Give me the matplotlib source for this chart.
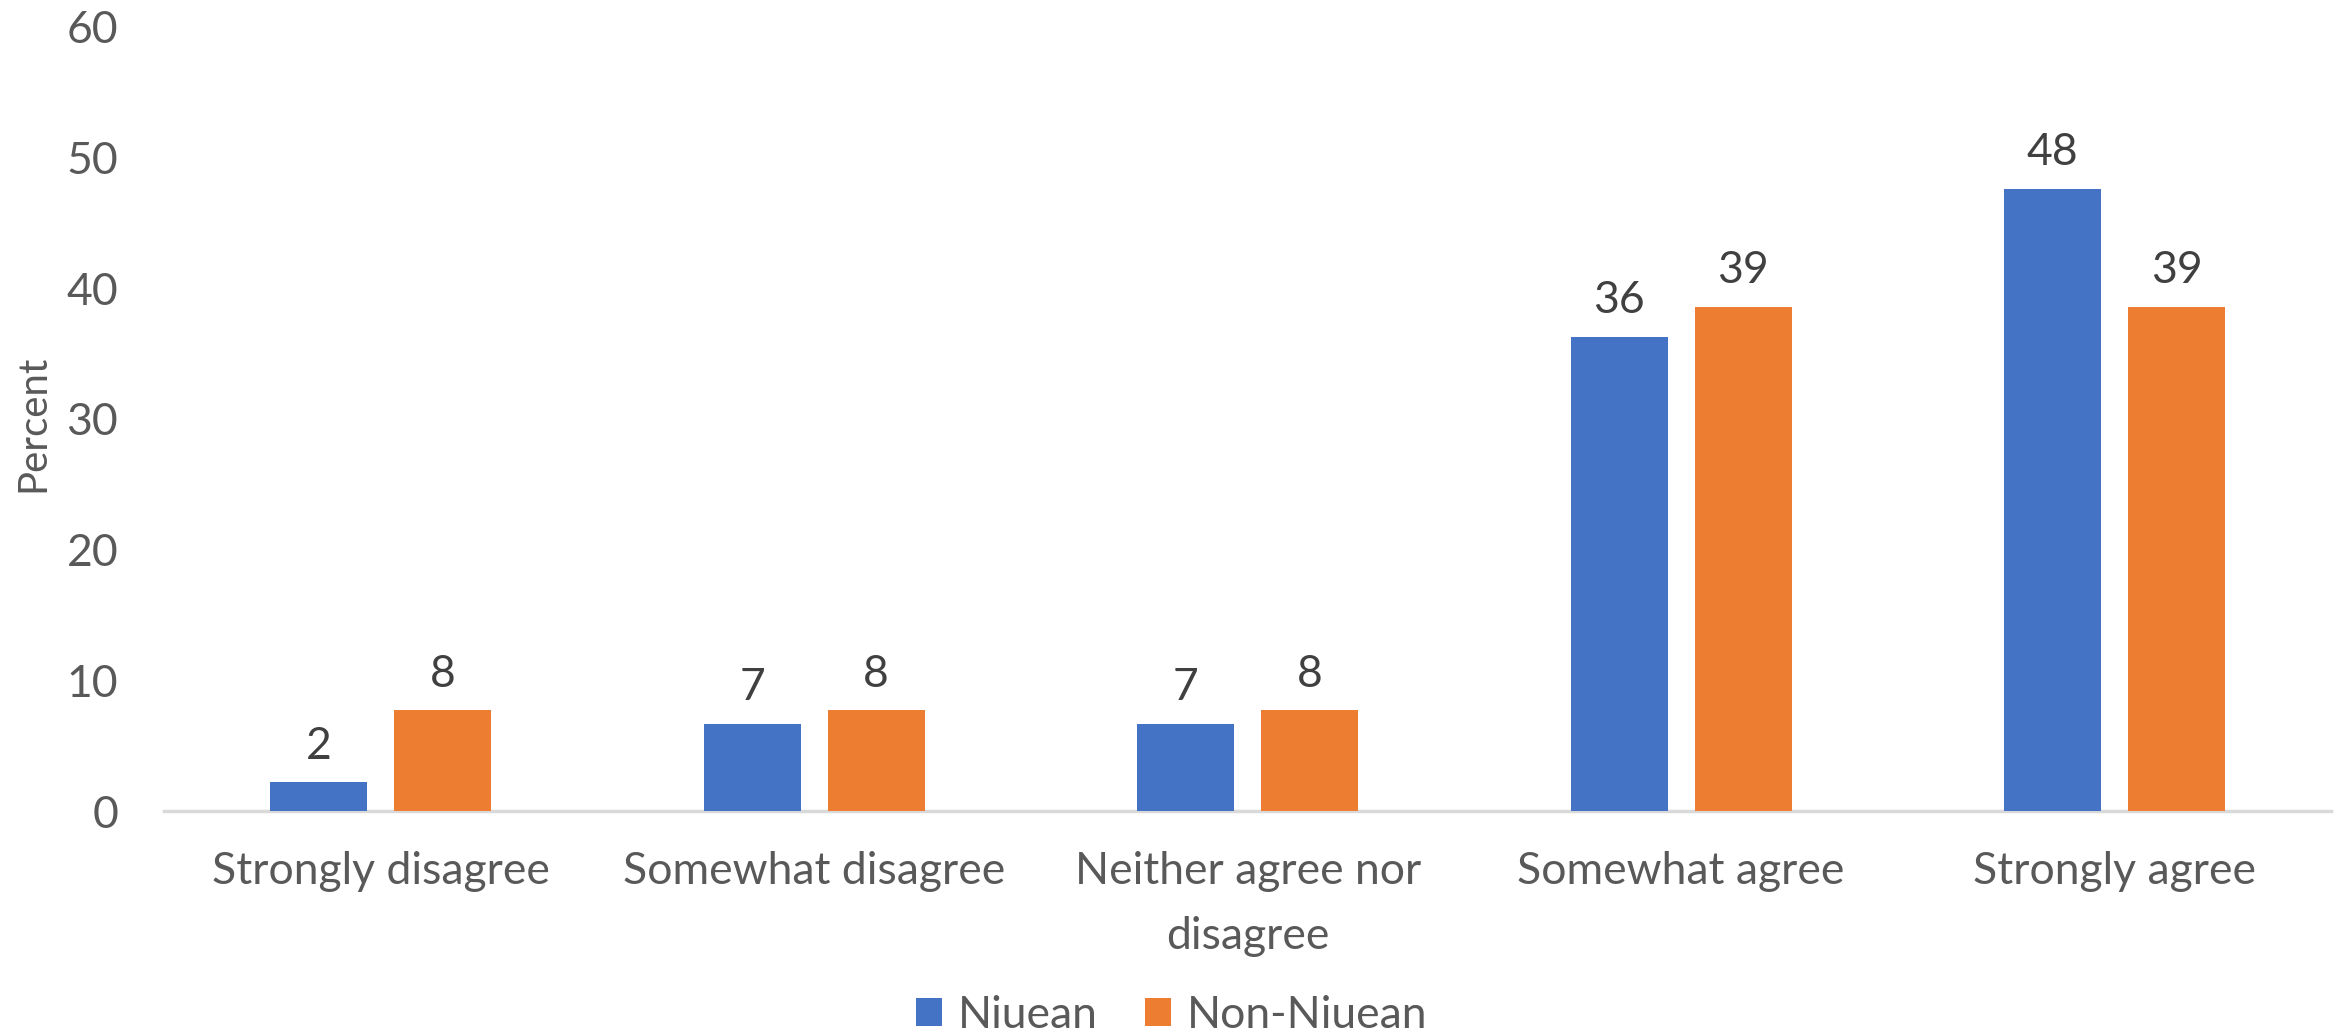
import matplotlib
matplotlib.use("Agg")
import matplotlib.pyplot as plt
import numpy as np

# values (labels show rounded numbers)
categories = ["Strongly disagree", "Somewhat disagree", "Neither agree nor\ndisagree",
              "Somewhat agree", "Strongly agree"]
niuean = [2.2, 6.7, 6.7, 36.3, 47.6]
non_niuean = [7.7, 7.7, 7.7, 38.6, 38.6]
series_names = ["Niuean", "Non-Niuean"]
yticks = [0, 10, 20, 30, 40, 50, 60]

BLUE = "#4472C4"
ORANGE = "#ED7D31"
TICK_GREY = "#595959"
LABEL_DARK = "#404040"

plt.rcParams["font.family"] = ["Lato", "DejaVu Sans"]

fig = plt.figure(figsize=(23.43, 10.32), dpi=100)
ax = fig.add_axes([0.070, 0.214, 0.925, 0.760])

x = np.arange(len(categories))
width = 0.224
offset = 0.143

bars_a = ax.bar(x - offset, niuean, width, color=BLUE, label=series_names[0], zorder=3)
bars_b = ax.bar(x + offset, non_niuean, width, color=ORANGE, label=series_names[1], zorder=3)

for bars, vals in [(bars_a, niuean), (bars_b, non_niuean)]:
    for b, v in zip(bars, vals):
        ax.annotate(f"{v:.0f}", (b.get_x() + b.get_width() / 2, v),
                    xytext=(0, 17), textcoords="offset points",
                    ha="center", va="baseline", fontsize=32, color=LABEL_DARK)

ax.set_xlim(-0.5, len(categories) - 0.5)
ax.set_ylim(0, 60)
ax.set_yticks(yticks)
ax.set_xticks(x)
ax.set_xticklabels(categories, linespacing=1.7)
ax.tick_params(axis="both", length=0, labelsize=32, labelcolor=TICK_GREY)
ax.tick_params(axis="y", pad=33)
ax.tick_params(axis="x", pad=29)

for side in ["top", "right", "left"]:
    ax.spines[side].set_visible(False)
ax.spines["bottom"].set_color("#D9D9D9")
ax.spines["bottom"].set_linewidth(2.5)

fig.text(33 / 2343, 1 - 423 / 1032, "Percent", rotation=90, ha="center", va="center",
         fontsize=29, color=TICK_GREY)

fig.legend(loc="center", bbox_to_anchor=(0.5, 1 - 1015 / 1032), ncol=2, frameon=False,
           fontsize=32, labelcolor=TICK_GREY, handlelength=0.6, handleheight=0.6,
           handletextpad=0.35, columnspacing=1.05)

fig.savefig("out.png", dpi=100)
